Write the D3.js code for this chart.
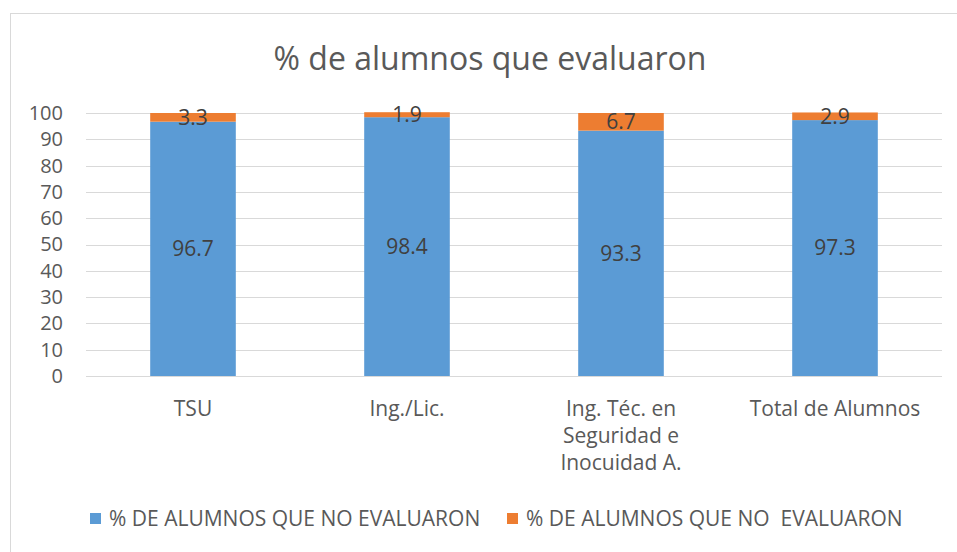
<!DOCTYPE html>
<html>
<head>
<meta charset="utf-8">
<script src="https://cdn.jsdelivr.net/npm/d3@7"></script>
<style>
body { margin: 0; background: #fff; }
svg text { font-family: "Open Sans", sans-serif; fill: #595959; }
</style>
</head>
<body>
<svg width="957" height="552"></svg>
<script>
var categories = ["TSU", "Ing./Lic.", "Ing. Téc. en|Seguridad e|Inocuidad A.", "Total de Alumnos"];
var evaluaron = [96.7, 98.4, 93.3, 97.3];
var noEvaluaron = [3.3, 1.9, 6.7, 2.9];
var seriesNames = ["% DE ALUMNOS QUE NO EVALUARON", "% DE ALUMNOS QUE NO  EVALUARON"];
var colors = ["#5b9bd5", "#ed7d31"];
var yTicks = [0, 10, 20, 30, 40, 50, 60, 70, 80, 90, 100];

var svg = d3.select("svg");

// border
svg.append("rect")
    .attr("x", 10.5).attr("y", 13.5)
    .attr("width", 957).attr("height", 560)
    .attr("fill", "none").attr("stroke", "#d9d9d9");

svg.append("text")
    .attr("x", 490).attr("y", 70)
    .attr("text-anchor", "middle")
    .style("font-size", "32px")
    .text("% de alumnos que evaluaron");

var xScale = d3.scaleBand().domain(categories).range([86, 942]).paddingInner(0.6).paddingOuter(0.3);
var yScale = d3.scaleLinear().domain([0, 100]).range([376, 113]);

// grid
svg.append("g").selectAll("line")
    .data(yTicks).enter().append("line")
    .attr("x1", 86).attr("x2", 942)
    .attr("y1", function (d) { return Math.round(yScale(d)) + 0.5; })
    .attr("y2", function (d) { return Math.round(yScale(d)) + 0.5; })
    .attr("stroke", "#d9d9d9").attr("stroke-width", 1);

var yAxis = svg.append("g")
    .attr("transform", "translate(80,0)")
    .call(d3.axisLeft(yScale).tickValues(yTicks).tickSize(0).tickPadding(17));
yAxis.select(".domain").remove();
yAxis.selectAll("text").style("font-size", "20px").attr("fill", "#595959");

var stacked = categories.map(function (c, i) {
    return { cat: c, a: evaluaron[i], b: noEvaluaron[i] };
});

var g = svg.append("g");
// blue
g.selectAll(".blue").data(stacked).enter().append("rect")
    .attr("x", function (d) { return xScale(d.cat); })
    .attr("width", xScale.bandwidth())
    .attr("y", function (d) { return yScale(d.a); })
    .attr("height", function (d) { return yScale(0) - yScale(d.a); })
    .attr("fill", colors[0]);
// orange
g.selectAll(".orange").data(stacked).enter().append("rect")
    .attr("x", function (d) { return xScale(d.cat); })
    .attr("width", xScale.bandwidth())
    .attr("y", function (d) { return yScale(d.a + d.b); })
    .attr("height", function (d) { return yScale(d.a) - yScale(d.a + d.b); })
    .attr("fill", colors[1]);

// labels
g.selectAll(".lblA").data(stacked).enter().append("text")
    .attr("x", function (d) { return xScale(d.cat) + xScale.bandwidth() / 2; })
    .attr("y", function (d) { return yScale(d.a / 2); })
    .attr("dy", "0.35em")
    .attr("text-anchor", "middle")
    .style("font-size", "21px")
    .style("fill", "#404040")
    .text(function (d) { return d.a; });
g.selectAll(".lblB").data(stacked).enter().append("text")
    .attr("x", function (d) { return xScale(d.cat) + xScale.bandwidth() / 2; })
    .attr("y", function (d) { return yScale(d.a + d.b / 2); })
    .attr("dy", "0.35em")
    .attr("text-anchor", "middle")
    .style("font-size", "21px")
    .style("fill", "#404040")
    .text(function (d) { return d.b; });

// category labels
var catG = svg.append("g");
categories.forEach(function (c) {
    var lines = c.split("|");
    var t = catG.append("text")
        .attr("x", xScale(c) + xScale.bandwidth() / 2)
        .attr("y", 416)
        .attr("text-anchor", "middle")
        .style("font-size", "21px");
    lines.forEach(function (l, j) {
        t.append("tspan")
            .attr("x", xScale(c) + xScale.bandwidth() / 2)
            .attr("dy", j == 0 ? 0 : 27)
            .text(l);
    });
});

// legend
var legX = [90, 507];
var leg = svg.append("g");
seriesNames.forEach(function (s, i) {
    leg.append("rect")
        .attr("x", legX[i]).attr("y", 513)
        .attr("width", 11).attr("height", 11)
        .attr("fill", colors[i]);
    leg.append("text")
        .attr("x", legX[i] + 19).attr("y", 526)
        .attr("xml:space", "preserve")
        .style("white-space", "pre")
        .style("font-size", "21px")
        .text(s);
});
</script>
</body>
</html>
